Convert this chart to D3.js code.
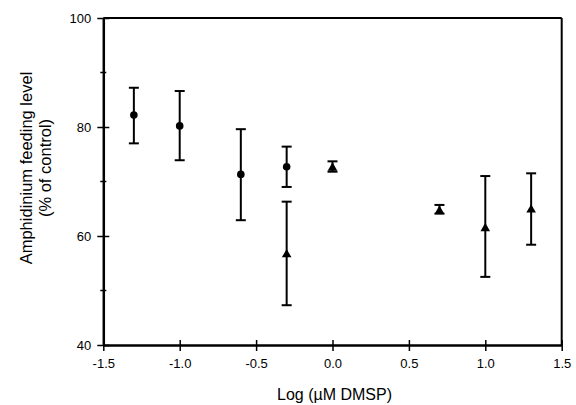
<!DOCTYPE html>
<html>
<head>
<meta charset="utf-8">
<script src="https://cdn.jsdelivr.net/npm/d3@7"></script>
<style>
  body { margin: 0; background: #fff; }
  svg { display: block; font-family: "Liberation Sans", Arial, sans-serif; }
</style>
</head>
<body>
<div id="chart"></div>
<script>
// circles series: log concentration, mean, upper and lower error bounds
const circleX = [-1.3, -1.0, -0.6, -0.3];
const circleMean = [82.2, 80.2, 71.3, 72.7];
const circleHigh = [87.2, 86.6, 79.6, 76.4];
const circleLow = [77.0, 73.9, 62.9, 69.0];

// triangles series
const triX = [-0.3, 0.0, 0.7, 1.0, 1.3];
const triMean = [56.6, 72.5, 64.6, 61.4, 64.8];
const triHigh = [66.3, 73.7, 65.7, 71.0, 71.5];
const triLow = [47.3, 71.8, 64.1, 52.5, 58.4];

const xTicks = [-1.5, -1.0, -0.5, 0.0, 0.5, 1.0, 1.5];
const yTicks = [40, 60, 80, 100];
const yMinorTicks = [50, 70, 90];

const width = 576, height = 405;
const margin = { top: 18, right: 14, bottom: 60, left: 103 };

const svg = d3.select('#chart')
  .append('svg')
  .attr('width', width)
  .attr('height', height);

const x = d3.scaleLinear()
  .domain([-1.5, 1.5])
  .range([margin.left + 0.3, width - margin.right - 0.3]);

const y = d3.scaleLinear()
  .domain([40, 100])
  .range([height - margin.bottom, margin.top]);

// frame: top and right edges
svg.append('line')
  .attr('x1', x(-1.5)).attr('x2', x(1.5))
  .attr('y1', y(100)).attr('y2', y(100))
  .attr('stroke', '#000').attr('stroke-width', 2);
svg.append('line')
  .attr('x1', x(1.5)).attr('x2', x(1.5))
  .attr('y1', y(100)).attr('y2', y(40))
  .attr('stroke', '#000').attr('stroke-width', 2);

// X axis
const xAxis = svg.append('g')
  .attr('transform', `translate(0,${y(40)})`)
  .call(d3.axisBottom(x)
    .tickValues(xTicks)
    .tickSize(0)
    .tickPadding(14)
    .tickFormat(d3.format('.1f')));
xAxis.select('.domain').attr('stroke-width', 2.5);
xAxis.selectAll('.tick text')
  .attr('font-size', 13)
  .attr('fill', '#000')
  .text(d => d3.format('.1f')(d).replace('−', '-'));
xAxis.selectAll('.tick').append('line')
  .attr('y1', -5).attr('y2', 6)
  .attr('stroke', '#000').attr('stroke-width', 1.5);

// Y axis
const yAxis = svg.append('g')
  .attr('transform', `translate(${x(-1.5)},0)`)
  .call(d3.axisLeft(y)
    .tickValues(yTicks)
    .tickSize(0)
    .tickPadding(12));
yAxis.select('.domain').attr('stroke-width', 2.5);
yAxis.selectAll('.tick text')
  .attr('font-size', 13)
  .attr('fill', '#000');
yAxis.selectAll('.tick').append('line')
  .attr('x1', -6).attr('x2', 6)
  .attr('stroke', '#000').attr('stroke-width', 1.5);

svg.append('g')
  .selectAll('line')
  .data(yMinorTicks)
  .join('line')
  .attr('x1', x(-1.5) - 3).attr('x2', x(-1.5) + 3)
  .attr('y1', d => y(d)).attr('y2', d => y(d))
  .attr('stroke', '#000').attr('stroke-width', 1.5);

// axis titles
svg.append('text')
  .attr('x', (x(-1.5) + x(1.5)) / 2 + 2)
  .attr('y', 400)
  .attr('text-anchor', 'middle')
  .attr('font-size', 16)
  .text('Log (µM DMSP)');

const yTitle = svg.append('text')
  .attr('transform', `translate(32,168) rotate(-90)`)
  .attr('text-anchor', 'middle')
  .attr('font-size', 16.5);
yTitle.append('tspan').attr('x', 0).attr('dy', 0).text('Amphidinium feeding level');
yTitle.append('tspan').attr('x', 0).attr('dy', 19).text('(% of control)');

// error bars
const capHalf = 5;
function errorBars(xs, lows, highs) {
  const g = svg.append('g').attr('stroke', '#000').attr('stroke-width', 2);
  xs.forEach((v, i) => {
    const cx = x(v);
    g.append('line')
      .attr('x1', cx).attr('x2', cx)
      .attr('y1', y(highs[i])).attr('y2', y(lows[i]));
    g.append('line')
      .attr('x1', cx - capHalf).attr('x2', cx + capHalf)
      .attr('y1', y(highs[i])).attr('y2', y(highs[i]));
    g.append('line')
      .attr('x1', cx - capHalf).attr('x2', cx + capHalf)
      .attr('y1', y(lows[i])).attr('y2', y(lows[i]));
  });
}

errorBars(circleX, circleLow, circleHigh);
errorBars(triX, triLow, triHigh);

// circles
svg.append('g')
  .selectAll('circle')
  .data(circleX)
  .join('circle')
  .attr('cx', d => x(d))
  .attr('cy', (d, i) => y(circleMean[i]))
  .attr('r', 3.8)
  .attr('fill', '#000');

// triangles
const tri = d3.symbol().type(d3.symbolTriangle).size(40);
svg.append('g')
  .selectAll('path')
  .data(triX)
  .join('path')
  .attr('d', tri)
  .attr('transform', (d, i) => `translate(${x(d)},${y(triMean[i])})`)
  .attr('fill', '#000');
</script>
</body>
</html>
